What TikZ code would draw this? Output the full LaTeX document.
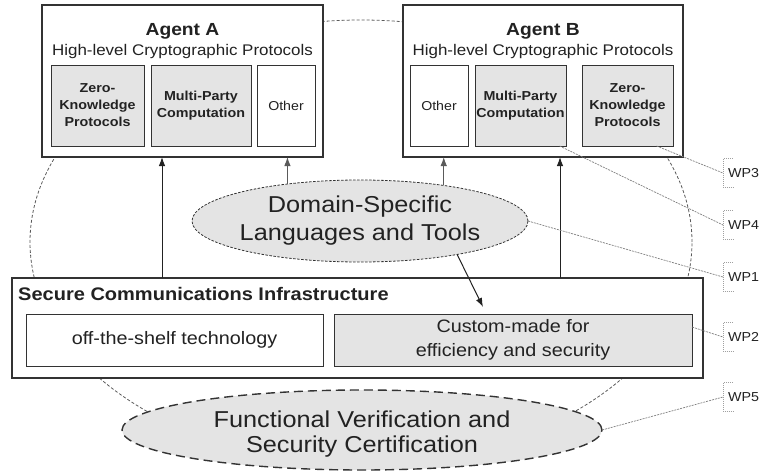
\documentclass[tikz,border=0pt]{standalone}
\usepackage{fontspec}
\setmainfont{Liberation Sans}[FakeStretch=1.1]
\usetikzlibrary{shapes.geometric,arrows.meta,calc}

\definecolor{ink}{HTML}{222222}
\definecolor{frame}{HTML}{333333}
\definecolor{shade}{HTML}{E4E4E4}
\definecolor{faint}{HTML}{5A5A5A}
\definecolor{leadgrey}{HTML}{808080}
\definecolor{brkgrey}{HTML}{A0A0A0}

% font shortcuts
\newcommand\setfs[2]{\fontsize{#1}{#2}\selectfont}
\newcommand\titlefont{\setfs{17.5}{21}\bfseries}
\newcommand\subfont{\setfs{15.4}{18}}
\newcommand\cellbold{\setfs{13}{17}\bfseries}
\newcommand\cellfont{\setfs{12.9}{17}}
\newcommand\scifont{\setfs{18.2}{22}\bfseries}
\newcommand\bodyfont{\setfs{18}{24}}
\newcommand\bigfont{\setfs{23}{28}}
\newcommand\bigfontb{\setfs{23}{25.5}}
\newcommand\wpfont{\setfs{13}{15}}

\begin{document}
\begin{tikzpicture}[x=1pt,y=-1pt,
  box/.style={rectangle, draw=frame, line width=1.1pt, fill=white,
    inner sep=0pt, outer sep=0pt, text=ink, align=center},
  subbox/.style={box, line width=0.9pt},
  greybox/.style={subbox, fill=shade},
  lbl/.style={inner sep=0pt, align=center, text=ink},
  ring/.style={ellipse, draw=faint, dash pattern=on 3pt off 2pt,
    line width=0.8pt, minimum width=662pt, minimum height=444pt,
    inner sep=0pt, outer sep=0pt},
  dslell/.style={ellipse, draw=frame, fill=shade, dash pattern=on 2.5pt off 1.5pt,
    line width=0.8pt, minimum width=336pt, minimum height=82pt,
    inner sep=0pt, outer sep=0pt},
  fvell/.style={ellipse, draw=frame, fill=shade, dash pattern=on 9pt off 5pt,
    line width=1.4pt, minimum width=480pt, minimum height=80pt,
    inner sep=0pt, outer sep=0pt},
  arr/.style={draw=ink, line width=1pt, -{Latex[length=9pt,width=6.5pt]}},
  softarr/.style={arr, draw=faint},
  lead/.style={draw=leadgrey, line width=0.7pt, dash pattern=on 2pt off 1pt},
  brk/.style={draw=brkgrey, line width=0.8pt, dash pattern=on 1pt off 1pt},
  wp/.style={anchor=west, minimum height=28pt, inner xsep=5pt, inner ysep=0pt,
    font=\wpfont, text=ink},
]
\useasboundingbox (0,0) rectangle (761,471);

% background work-package ring
\node[ring] (ring) at (361,242) {};

% Agent A
\node[box, minimum width=281pt, minimum height=152pt] (agentA) at (182.5,81) {};
\node[lbl, font=\titlefont] (agentAname) at (182.5,31) {Agent A};
\node[lbl, font=\subfont] (agentAsub) at (182.5,52) {High-level Cryptographic Protocols};
\node[greybox, minimum width=93pt, minimum height=81pt, font=\cellbold] (zkA) at (97.5,105.5) {Zero-\\Knowledge\\Protocols};
\node[greybox, minimum width=100pt, minimum height=81pt, font=\cellbold] (mpcA) at (201,105.5) {Multi-Party\\Computation};
\node[subbox, minimum width=58pt, minimum height=81pt, font=\cellfont] (othA) at (286,105.5) {Other};

% Agent B
\node[box, minimum width=280pt, minimum height=152pt] (agentB) at (543,81) {};
\node[lbl, font=\titlefont] (agentBname) at (543,31) {Agent B};
\node[lbl, font=\subfont] (agentBsub) at (543,52) {High-level Cryptographic Protocols};
\node[subbox, minimum width=58pt, minimum height=81pt, font=\cellfont] (othB) at (439,105.5) {Other};
\node[greybox, minimum width=91pt, minimum height=81pt, font=\cellbold] (mpcB) at (520.5,105.5) {Multi-Party\\Computation};
\node[greybox, minimum width=91pt, minimum height=81pt, font=\cellbold] (zkB) at (627.5,105.5) {Zero-\\Knowledge\\Protocols};

% Secure communications infrastructure
\node[box, minimum width=691pt, minimum height=100pt] (sci) at (357.5,328) {};
\node[lbl, anchor=west, font=\scifont] (scititle) at (18,294) {Secure Communications Infrastructure};
\node[subbox, minimum width=297pt, minimum height=52pt, font=\bodyfont] (ots) at (174.5,340) {off-the-shelf technology};
\node[greybox, minimum width=358pt, minimum height=52pt, font=\bodyfont] (cust) at (513,340) {Custom-made for\\efficiency and security};

% Domain-specific languages
\node[dslell] (dsl) at (360,221) {};
\node[lbl, font=\bigfont] (dsltext) at (360,221) {Domain-Specific\\Languages and Tools};

% Verification and certification
\node[fvell] (fv) at (362,430) {};
\node[lbl, font=\bigfontb] (fvtext) at (362,434) {Functional Verification and\\Security Certification};

% arrows
\coordinate (xA) at (162,0);
\coordinate (xB) at (560,0);
\coordinate (dtip) at (483,307);
\draw[arr] (sci.north -| xA) -- (agentA.south -| xA);
\draw[arr] (sci.north -| xB) -- (agentB.south -| xB);
\draw[softarr] (dsl.153.6) -- (dsl.153.6 |- agentA.south);
\draw[softarr] (dsl.23.6) -- (dsl.23.6 |- agentB.south);
\draw[arr] (dsl.-19.3) -- (dtip);

% work-package tags
\node[wp] (wp3) at (723,173) {WP3};
\node[wp] (wp4) at (723,225) {WP4};
\node[wp] (wp1) at (723,277) {WP1};
\node[wp] (wp2) at (723,337) {WP2};
\node[wp] (wp5) at (723,397) {WP5};
\foreach \w in {wp3,wp4,wp1,wp2,wp5}{
  \draw[brk] ([xshift=10pt]\w.north west) -- (\w.north west)
    -- (\w.south west) -- ([xshift=10pt]\w.south west);
}

% leader lines
\draw[lead] ($(zkB.south west)!0.82!(zkB.south east)$) -- (wp3.west);
\draw[lead] ($(mpcB.south west)!0.93!(mpcB.south east)$) -- (wp4.west);
\draw[lead] (dsl.east) -- (wp1.west);
\draw[lead] ($(cust.north east)!0.25!(cust.south east)$) -- (wp2.west);
\draw[lead] (fv.east) -- (wp5.west);
\end{tikzpicture}
\end{document}
